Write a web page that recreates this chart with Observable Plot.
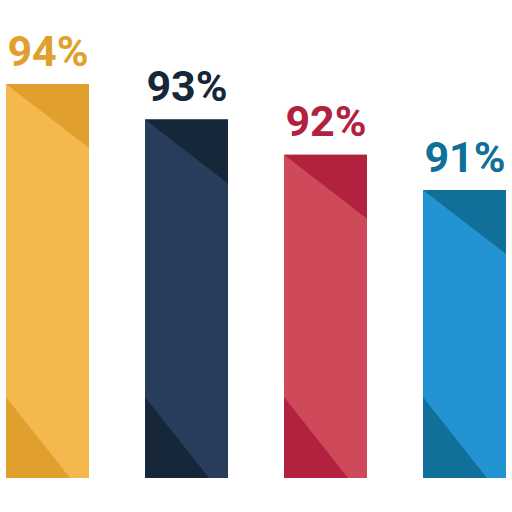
<!DOCTYPE html>
<html>
<head>
<meta charset="utf-8">
<script src="https://cdn.jsdelivr.net/npm/d3@7"></script>
<script src="https://cdn.jsdelivr.net/npm/@observablehq/plot@0.6"></script>
<style>
  html, body { margin: 0; padding: 0; background: #ffffff; }
  svg { display: block; }
</style>
</head>
<body>
<div id="chart"></div>
<script>
const categories = ["Bar 1", "Bar 2", "Bar 3", "Bar 4"];
const values = [94, 93, 92, 91];
const labels = ["94%", "93%", "92%", "91%"];
const lightColors = ["#F5B84F", "#283D5B", "#CE4A5B", "#2493D4"];
const darkColors = ["#E1A02D", "#162739", "#B2223F", "#10709A"];
const yMin = 82.85;
const yMax = 96.38;

const data = categories.map((c, i) => ({
  cat: c, value: values[i], label: labels[i], light: lightColors[i], dark: darkColors[i]
}));

function triangles(index, scales) {
  const g = d3.create("svg:g");
  const x = scales.x, y = scales.y;
  const bw = x.bandwidth();
  const yBase = y(yMin);
  for (const d of data) {
    const x0 = x(d.cat), x1 = x0 + bw, yt = y(d.value);
    g.append("polygon")
      .attr("points", `${x0},${yt} ${x1},${yt} ${x1},${yt + 64}`)
      .attr("fill", d.dark);
    g.append("polygon")
      .attr("points", `${x0},${yBase - 81} ${x0 + 64},${yBase} ${x0},${yBase}`)
      .attr("fill", d.dark);
  }
  return g.node();
}

const plot = Plot.plot({
  width: 512,
  height: 512,
  marginTop: 0,
  marginBottom: 34,
  marginLeft: 6,
  marginRight: 6,
  style: { background: "#ffffff" },
  x: { domain: categories, paddingInner: 0.406, paddingOuter: 0, axis: null },
  y: { domain: [yMin, yMax], axis: null },
  color: { type: "identity" },
  marks: [
    Plot.barY(data, { x: "cat", y1: yMin, y2: "value", fill: "light" }),
    triangles,
    Plot.text(data, {
      x: "cat", y: "value", text: "label", fill: "dark",
      lineAnchor: "bottom", dy: -19,
      fontSize: 43, fontWeight: 700, fontFamily: "Roboto"
    })
  ]
});
document.getElementById("chart").appendChild(plot);
</script>
</body>
</html>
